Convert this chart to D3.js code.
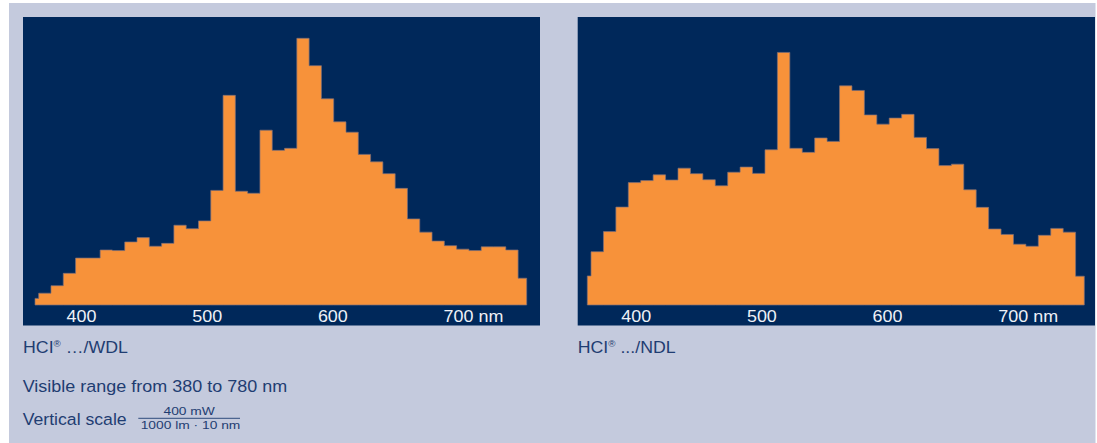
<!DOCTYPE html>
<html><head><meta charset="utf-8">
<script src="https://cdn.jsdelivr.net/npm/d3@7"></script>
<style>html,body{margin:0;padding:0;background:#fff;} svg{display:block;}</style>
</head><body>
<script>
// ---- data ----
const binStarts = [380, 383, 393, 403, 413, 423, 433, 443, 453, 463, 473, 483, 493, 503, 513, 523, 533, 543, 553, 563,
                   573, 583, 593, 603, 613, 623, 633, 643, 653, 663, 673, 683, 693, 703, 713, 723, 733, 743, 753, 763, 773];
const binEnd = 780;
const wdlValues = [2.3, 4.1, 6.7, 11.0, 16.3, 16.3, 19.1, 18.9, 21.9, 23.4, 20.4, 21.4, 27.7, 26.5, 29.2, 39.8, 72.8, 39.5, 38.8, 60.7,
                   53.7, 54.4, 92.6, 83.1, 71.6, 63.6, 60.0, 52.3, 49.7, 45.6, 40.5, 29.9, 25.3, 22.2, 20.6, 19.4, 18.9, 20.2, 20.2, 19.1, 9.3];
const ndlValues = [10.1, 18.5, 25.5, 34.0, 42.5, 43.2, 45.2, 43.4, 47.5, 45.6, 43.5, 41.4, 46.1, 47.9, 45.7, 53.9, 87.7, 54.4, 53.0, 58.0,
                   56.8, 76.1, 74.5, 66.0, 62.8, 64.9, 66.2, 58.2, 54.3, 48.4, 48.9, 40.0, 33.9, 26.4, 24.5, 21.1, 20.4, 24.2, 26.6, 25.3, 10.0];
const tickValues = [400, 500, 600, 700];
const unitLabel = "nm";
const panelTitles = [["HCI", "®", " …/WDL"], ["HCI", "®", " .../NDL"]];
const rangeText = "Visible range from 380 to 780 nm";
const scaleLabel = "Vertical scale";
const scaleNumerator = "400 mW";
const scaleDenominator = "1000 lm · 10 nm";

// ---- style ----
const W = 1097, H = 443;
const C = {bg: "#c4cadd", navy: "#00285a", orange: "#f7923a", edge: "#7c6f78", text: "#1f3d72", tick: "#eef1f7"};
const FONT = "'Liberation Sans', Arial, Helvetica, sans-serif";

const svg = d3.select("body").append("svg").attr("width", W).attr("height", H);
svg.append("rect").attr("width", W).attr("height", H).attr("fill", "#fff");
svg.append("rect").attr("x", 9).attr("y", 3).attr("width", 1086.5).attr("height", 440).attr("fill", C.bg);

const panels = [
  {x: 23, w: 517, values: wdlValues, barL: 12, barR: 503.7, title: panelTitles[0]},
  {x: 577.7, w: 517.3, values: ndlValues, barL: 9.6, barR: 506.6, title: panelTitles[1]}
];
const panelY = 17, panelH = 308.5, baseY = 305;

const y = d3.scaleLinear().domain([0, 100]).range([baseY, panelY]);

panels.forEach(p => {
  const g = svg.append("g");
  g.append("rect").attr("x", p.x).attr("y", panelY).attr("width", p.w).attr("height", panelH).attr("fill", C.navy);

  const x = d3.scaleLinear().domain([binStarts[0], binEnd]).range([p.x + p.barL, p.x + p.barR]);
  const pts = binStarts.map((b, i) => ({nm: b, v: p.values[i]}));
  pts.push({nm: binEnd, v: p.values[p.values.length - 1]});

  const area = d3.area().curve(d3.curveStepAfter)
    .x(d => x(d.nm)).y0(y(0)).y1(d => y(d.v));
  g.append("path").datum(pts).attr("d", area)
    .attr("fill", C.orange).attr("stroke", C.edge).attr("stroke-width", 0.7);

  // axis labels
  const xt = d3.scaleLinear().domain([400, 700]).range([p.x + 58, p.x + 435]);
  const ax = g.append("g").attr("transform", `translate(0,${baseY})`)
    .call(d3.axisBottom(xt).tickValues(tickValues).tickSize(0).tickPadding(5).tickFormat(d3.format("d")));
  ax.select(".domain").remove();
  ax.selectAll("text")
    .attr("fill", C.tick).attr("font-family", FONT).attr("font-size", 16.3)
    .attr("transform", "scale(1.1,1)");
  const last = tickValues[tickValues.length - 1];
  g.append("text").attr("x", xt(last) + 20.5).attr("y", 321.7)
    .attr("fill", C.tick).attr("font-family", FONT).attr("font-size", 16.3)
    .attr("transform", `translate(${xt(last) + 20.5},321.7) scale(1.1,1) translate(${-(xt(last) + 20.5)},-321.7)`)
    .text(unitLabel);

  // title
  const t = g.append("text").attr("fill", C.text).attr("font-family", FONT).attr("font-size", 16.3)
    .attr("transform", `translate(${p.x},352.7) scale(1.09,1)`);
  t.append("tspan").text(p.title[0]);
  t.append("tspan").attr("font-size", 9).attr("dy", -5.5).text(p.title[1]);
  t.append("tspan").attr("dy", 5.5).text(p.title[2]);
});

// footer texts
svg.append("text").attr("fill", C.text).attr("font-family", FONT).attr("font-size", 16.5)
  .attr("transform", "translate(22.7,392) scale(1.09,1)").text(rangeText);
svg.append("text").attr("fill", C.text).attr("font-family", FONT).attr("font-size", 16.5)
  .attr("transform", "translate(22.7,425) scale(1.07,1)").text(scaleLabel);
const fx = 189.2;
svg.append("text").attr("fill", C.text).attr("font-family", FONT).attr("font-size", 11.5)
  .attr("text-anchor", "middle").attr("transform", `translate(${fx},415) scale(1.2,1)`).text(scaleNumerator);
svg.append("line").attr("x1", 138.3).attr("x2", 240).attr("y1", 418.3).attr("y2", 418.3)
  .attr("stroke", C.text).attr("stroke-width", 0.9);
svg.append("text").attr("fill", C.text).attr("font-family", FONT).attr("font-size", 11.5)
  .attr("text-anchor", "middle").attr("transform", `translate(${fx + 1.3},429) scale(1.2,1)`).text(scaleDenominator);
</script>
</body></html>
